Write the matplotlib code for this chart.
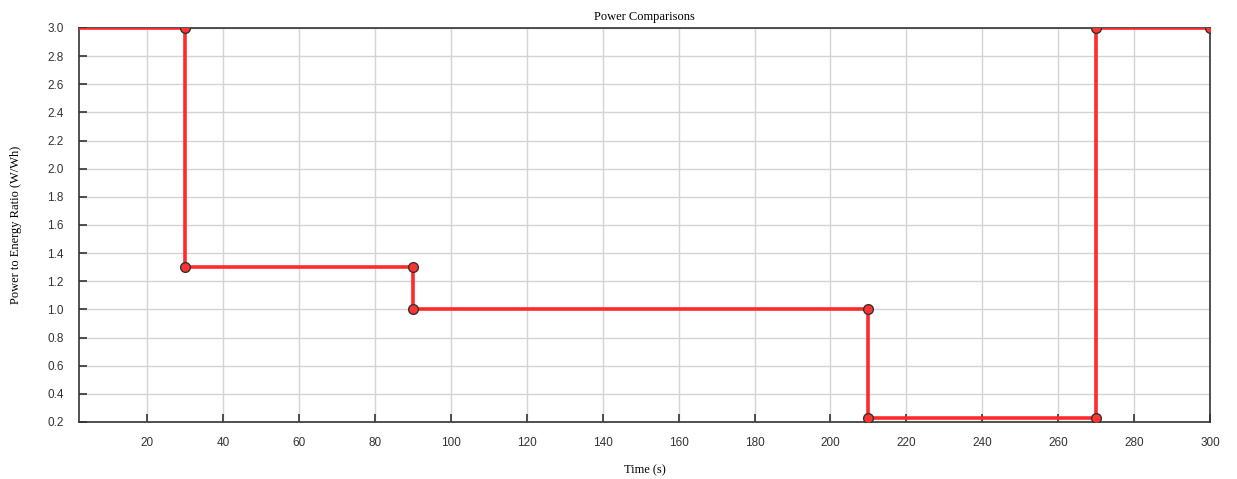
import matplotlib
matplotlib.use("Agg")
import matplotlib.pyplot as plt

# step profile of power-to-energy ratio over time
time_s = [0, 30, 30, 90, 90, 210, 210, 270, 270, 300]
ratio = [3.0, 3.0, 1.3, 1.3, 1.0, 1.0, 0.23, 0.23, 3.0, 3.0]
xticks = [20, 40, 60, 80, 100, 120, 140, 160, 180, 200, 220, 240, 260, 280, 300]
yticks = [0.2, 0.4, 0.6, 0.8, 1.0, 1.2, 1.4, 1.6, 1.8, 2.0, 2.2, 2.4, 2.6, 2.8, 3.0]

plt.rcParams['font.family'] = ['Liberation Serif', 'DejaVu Serif']

W, H = 1237, 479
fig = plt.figure(figsize=(W / 100, H / 100), dpi=100)
ax = fig.add_axes([79 / W, 1 - 422 / H, (1210 - 79) / W, (422 - 28) / H])

ax.plot(time_s, ratio, color='#ff2a2a', lw=2.6, marker='o', ms=7,
        markerfacecolor='#ff3333', markeredgecolor='#333333', markeredgewidth=1.0,
        zorder=3, clip_on=True)

ax.set_xlim(2, 300)
ax.set_ylim(0.2, 3.0)
ax.set_xticks(xticks)
ax.set_yticks(yticks)
ax.set_yticklabels([f"{v:.1f}" for v in yticks])
ax.grid(True, color='#d4d4d4', lw=1.0, zorder=0)
ax.tick_params(direction='in', length=6, width=1.2, color='#333333',
               labelsize=8.5, labelcolor='#333333', pad=11)
for lbl in ax.get_xticklabels() + ax.get_yticklabels():
    lbl.set_family(['Liberation Sans', 'DejaVu Sans'])
for s in ax.spines.values():
    s.set_color('#333333')
    s.set_linewidth(1.2)

ax.set_title("Power Comparisons", fontsize=9, pad=6)
ax.set_xlabel("Time (s)", fontsize=9, labelpad=11)
ax.set_ylabel("Power to Energy Ratio (W/Wh)", fontsize=9, labelpad=18)

fig.savefig("out.png", dpi=100)
